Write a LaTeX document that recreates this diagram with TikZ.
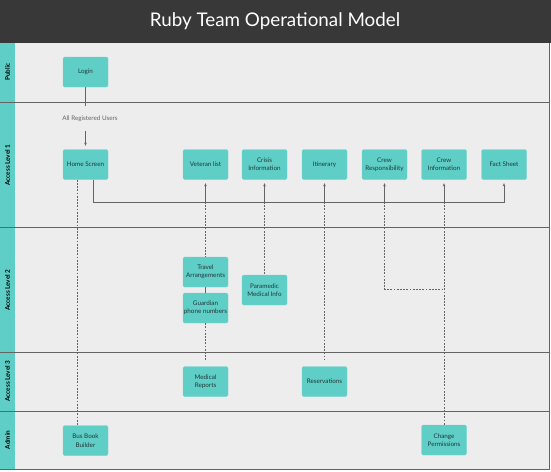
\documentclass[tikz,border=0pt]{standalone}
\usepackage{fontspec}
\setmainfont{Lato}
\usetikzlibrary{arrows.meta,calc}
\definecolor{tealbox}{RGB}{94,206,198}
\definecolor{tealedge}{RGB}{120,214,207}
\definecolor{lanebg}{RGB}{237,237,237}
\definecolor{titlebg}{RGB}{56,56,56}
\definecolor{linegray}{RGB}{100,100,100}
\definecolor{boxtext}{RGB}{35,55,55}
\tikzset{
  stepbox/.style={rectangle, rounded corners=1.5pt, fill=tealbox, draw=tealedge, line width=0.4pt,
    minimum width=45pt, minimum height=30pt, inner sep=0pt, align=center,
    font=\fontsize{6.3}{8.4}\selectfont, text=boxtext},
  lanelabel/.style={rotate=90, font=\bfseries\fontsize{6.4}{7.5}\selectfont, text=black},
  sepline/.style={draw=linegray, line width=0.8pt},
  flow/.style={draw=linegray, line width=0.7pt},
  flowarrow/.style={flow, -{Stealth[length=3.2pt,width=2.6pt]}, shorten >=3.5pt},
  dotline/.style={draw=linegray, line width=0.7pt, dash pattern=on 1.8pt off 1.4pt},
}
\begin{document}
\begin{tikzpicture}[x=1pt,y=-1pt]
\useasboundingbox (0,0) rectangle (551,471);
\fill[white] (0,0) rectangle (551,471);
% lanes
\fill[lanebg] (15,43) rectangle (549,470);
\fill[tealbox] (0,43) rectangle (15,470);
\fill[titlebg] (0,0) rectangle (551,43);
\draw[linegray, line width=0.8pt] (549,43) -- (549,470);
\foreach \yy in {102,227.5,352,411,469.5} {
  \draw[sepline] (0,\yy) -- (549,\yy);
}
\node[text=white, font=\fontsize{18.8}{22}\selectfont] (title) at (275,21.5) {Ruby Team Operational Model};
% lane labels
\node[lanelabel] (lpub) at (7.5,72) {Public};
\node[lanelabel] (l1) at (7.5,165) {Access Level 1};
\node[lanelabel] (l2) at (7.5,290) {Access Level 2};
\node[lanelabel] (l3) at (7.5,381) {Access Level 3};
\node[lanelabel] (ladm) at (7.5,440) {Admin};
% nodes
\node[stepbox] (login) at (85.5,72) {Login};
\node[stepbox] (home) at (85.5,164.5) {Home Screen};
\node[stepbox] (vet) at (205.5,164.5) {Veteran list};
\node[stepbox] (crisis) at (264.5,164.5) {Crisis\\Information};
\node[stepbox] (itin) at (324.5,164.5) {Itinerary};
\node[stepbox] (crewr) at (384.5,164.5) {Crew\\Responsibility};
\node[stepbox] (crewi) at (444,164.5) {Crew\\Information};
\node[stepbox] (fact) at (504,164.5) {Fact Sheet};
\node[stepbox] (travel) at (205.5,272) {Travel\\Arrangements};
\node[stepbox] (guardian) at (205.5,308) {Guardian\\phone numbers};
\node[stepbox] (paramed) at (264.5,290) {Paramedic\\Medical Info};
\node[stepbox] (medrep) at (205.5,381.5) {Medical\\Reports};
\node[stepbox] (reserv) at (324.5,381.5) {Reservations};
\node[stepbox] (bus) at (85.5,440.5) {Bus Book\\Builder};
\node[stepbox] (change) at (444,440) {Change\\Permissions};
\node[font=\fontsize{6.3}{8}\selectfont, text=linegray] (allreg) at (90,119) {All Registered Users};
% coordinates
\coordinate (busy) at (0,202);
\coordinate (loginend) at (85.5,106);
\coordinate (arrstart) at (85.5,131);
\coordinate (crewturn) at (0,289);
% connectors
\draw[flow] (login.south) -- (loginend);
\draw[flow, -{Stealth[length=3.2pt,width=2.6pt]}] (arrstart) -- ([yshift=3.5pt]home.north);
\draw[flowarrow] ([xshift=7.5pt]home.south) |- (fact.south |- busy) -- (fact.south);
\foreach \n in {vet,crisis,itin,crewr,crewi} {
  \draw[flowarrow] (\n.south |- busy) -- (\n.south);
}
\draw[dotline] ([xshift=-8.5pt]home.south) -- ([xshift=-8.5pt]bus.north);
\draw[dotline] (vet.south |- busy) -- (travel.north);
\draw[flow] (travel.south) -- (guardian.north);
\draw[dotline] (guardian.south) -- ([yshift=6pt]medrep.north);
\draw[dotline] (crisis.south |- busy) -- (paramed.north);
\draw[dotline] (itin.south |- busy) -- ([yshift=6pt]reserv.north);
\draw[dotline] (crewr.south |- busy) |- (crewi.south |- crewturn);
\draw[dotline] (crewi.south |- busy) -- (change.north);
\end{tikzpicture}
\end{document}
